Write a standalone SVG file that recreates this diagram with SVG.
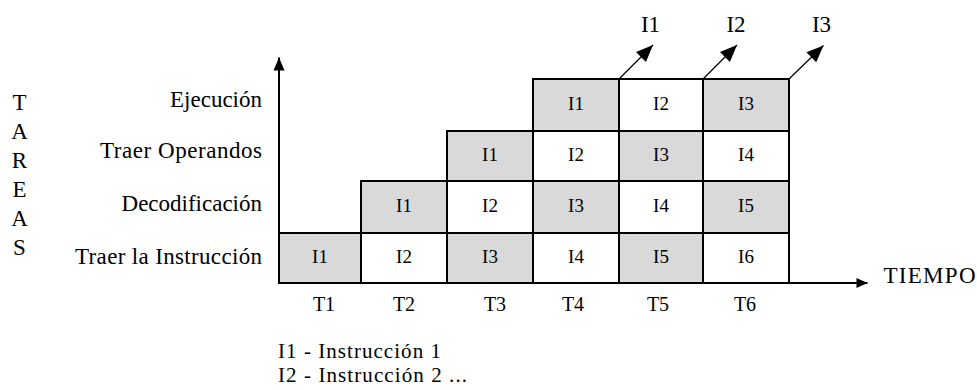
<svg xmlns="http://www.w3.org/2000/svg" width="977" height="390" viewBox="0 0 977 390">
  <style>
    text { font-family: "Liberation Serif", "Times New Roman", serif; fill: #000; }
    .lbl { font-size: 23px; }
    .task { font-size: 23px; text-anchor: end; }
    .cell text { font-size: 19px; text-anchor: middle; }
    .tick { font-size: 20px; text-anchor: middle; }
    .out { font-size: 23px; text-anchor: middle; }
    .legend { font-size: 21px; }
    .g { fill: #d9d9d9; stroke: #000; stroke-width: 2; }
    .w { fill: #ffffff; stroke: #000; stroke-width: 2; }
    .axis { stroke: #000; stroke-width: 2; fill: none; }
    .diag { stroke: #000; stroke-width: 1.2; fill: none; }
  </style>
  <defs>
    <marker id="headBig" markerUnits="userSpaceOnUse" viewBox="-18 -8 19 16" markerWidth="19" markerHeight="16" refX="0" refY="0" orient="auto">
      <path d="M0,0 L-17,-7 L-17,7 Z" fill="#000"/>
    </marker>
    <marker id="headV" markerUnits="userSpaceOnUse" viewBox="-14 -7 15 14" markerWidth="15" markerHeight="14" refX="0" refY="0" orient="auto">
      <path d="M0,0 L-13,-5.5 L-13,5.5 Z" fill="#000"/>
    </marker>
    <marker id="headH" markerUnits="userSpaceOnUse" viewBox="-12 -6 13 12" markerWidth="13" markerHeight="12" refX="0" refY="0" orient="auto">
      <path d="M0,0 L-11,-5 L-11,5 Z" fill="#000"/>
    </marker>
  </defs>

  <rect width="977" height="390" fill="#ffffff"/>

  <!-- vertical title -->
  <g id="tareas" class="lbl" text-anchor="middle">
    <text x="19.5" y="110">T</text>
    <text x="19.5" y="139">A</text>
    <text x="19.5" y="168">R</text>
    <text x="19.5" y="197">E</text>
    <text x="19.5" y="226">A</text>
    <text x="19.5" y="255">S</text>
  </g>

  <!-- stage names -->
  <g id="stage-labels">
    <text class="task" x="262" y="107">Ejecución</text>
    <text class="task" x="262" y="158" textLength="162">Traer Operandos</text>
    <text class="task" x="262" y="211">Decodificación</text>
    <text class="task" x="262" y="264" textLength="187">Traer la Instrucción</text>
  </g>

  <!-- row: Traer la Instrucción -->
  <g id="f1" class="cell"><rect class="g" x="279" y="233" width="82" height="50"/><text x="320" y="263">I1</text></g>
  <g id="f2" class="cell"><rect class="w" x="361" y="233" width="86" height="50"/><text x="404" y="263">I2</text></g>
  <g id="f3" class="cell"><rect class="g" x="447" y="233" width="86" height="50"/><text x="490" y="263">I3</text></g>
  <g id="f4" class="cell"><rect class="w" x="533" y="233" width="86" height="50"/><text x="576" y="263">I4</text></g>
  <g id="f5" class="cell"><rect class="g" x="619" y="233" width="84" height="50"/><text x="661" y="263">I5</text></g>
  <g id="f6" class="cell"><rect class="w" x="703" y="233" width="86" height="50"/><text x="746" y="263">I6</text></g>

  <!-- row: Decodificación -->
  <g id="d1" class="cell"><rect class="g" x="361" y="181" width="86" height="52"/><text x="404" y="212">I1</text></g>
  <g id="d2" class="cell"><rect class="w" x="447" y="181" width="86" height="52"/><text x="490" y="212">I2</text></g>
  <g id="d3" class="cell"><rect class="g" x="533" y="181" width="86" height="52"/><text x="576" y="212">I3</text></g>
  <g id="d4" class="cell"><rect class="w" x="619" y="181" width="84" height="52"/><text x="661" y="212">I4</text></g>
  <g id="d5" class="cell"><rect class="g" x="703" y="181" width="86" height="52"/><text x="746" y="212">I5</text></g>

  <!-- row: Traer Operandos -->
  <g id="o1" class="cell"><rect class="g" x="447" y="131" width="86" height="50"/><text x="490" y="161">I1</text></g>
  <g id="o2" class="cell"><rect class="w" x="533" y="131" width="86" height="50"/><text x="576" y="161">I2</text></g>
  <g id="o3" class="cell"><rect class="g" x="619" y="131" width="84" height="50"/><text x="661" y="161">I3</text></g>
  <g id="o4" class="cell"><rect class="w" x="703" y="131" width="86" height="50"/><text x="746" y="161">I4</text></g>

  <!-- row: Ejecución -->
  <g id="e1" class="cell"><rect class="g" x="533" y="79" width="86" height="52"/><text x="576" y="110">I1</text></g>
  <g id="e2" class="cell"><rect class="w" x="619" y="79" width="84" height="52"/><text x="661" y="110">I2</text></g>
  <g id="e3" class="cell"><rect class="g" x="703" y="79" width="86" height="52"/><text x="746" y="110">I3</text></g>

  <!-- axes and completion arrows -->
  <g id="connectors">
    <line class="axis" x1="279" y1="283" x2="279" y2="57.5" marker-end="url(#headV)"/>
    <line class="axis" x1="279" y1="283" x2="867.5" y2="283" marker-end="url(#headH)"/>
    <line class="diag" x1="619" y1="79" x2="653" y2="45" marker-end="url(#headBig)"/>
    <line class="diag" x1="703" y1="79" x2="737" y2="45" marker-end="url(#headBig)"/>
    <line class="diag" x1="789" y1="79" x2="823.5" y2="45.5" marker-end="url(#headBig)"/>
  </g>

  <!-- finished instructions -->
  <g id="outputs">
    <text class="out" x="650.5" y="32">I1</text>
    <text class="out" x="736" y="32">I2</text>
    <text class="out" x="821.5" y="32">I3</text>
  </g>

  <!-- time axis -->
  <g id="time-ticks">
    <text class="tick" x="324" y="311">T1</text>
    <text class="tick" x="404" y="311">T2</text>
    <text class="tick" x="495" y="311">T3</text>
    <text class="tick" x="573" y="311">T4</text>
    <text class="tick" x="658" y="311">T5</text>
    <text class="tick" x="745" y="311">T6</text>
  </g>
  <text id="tiempo" class="lbl" x="883.5" y="283" textLength="92">TIEMPO</text>

  <!-- legend -->
  <g id="legend" class="legend">
    <text x="278" y="358" textLength="163">I1 - Instrucción 1</text>
    <text x="278" y="382" textLength="189">I2 - Instrucción 2 ...</text>
  </g>
</svg>
